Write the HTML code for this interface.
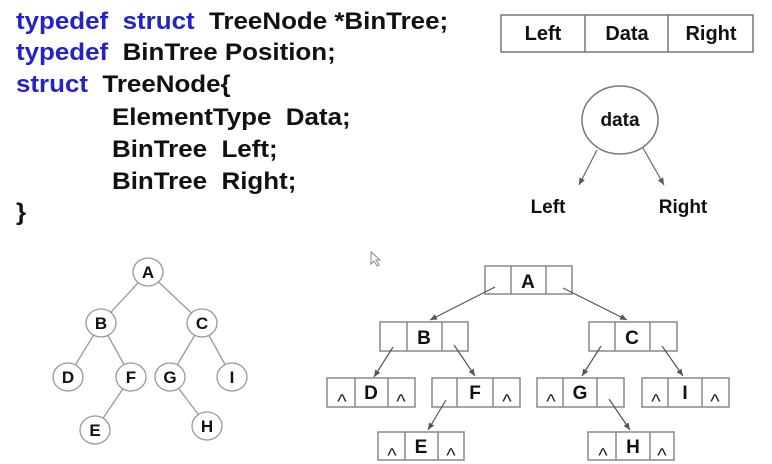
<!DOCTYPE html>
<html><head><meta charset="utf-8"><style>
body{margin:0;background:#fff;width:772px;height:464px;overflow:hidden}
.l{position:absolute;font:bold 24px/32px "Liberation Sans",sans-serif;color:#111;white-space:pre;transform:scaleX(1.08);transform-origin:left center}
.k{color:#2323c8}
</style></head><body>
<div class="l" style="left:16px;top:6px"><span class="k">typedef</span>  <span class="k">struct</span>  TreeNode *BinTree;</div>
<div class="l" style="left:16px;top:37px"><span class="k">typedef</span>  BinTree Position;</div>
<div class="l" style="left:16px;top:69px"><span class="k">struct</span>  TreeNode{</div>
<div class="l" style="left:112px;top:102px">ElementType  Data;</div>
<div class="l" style="left:112px;top:134px">BinTree  Left;</div>
<div class="l" style="left:112px;top:166px">BinTree  Right;</div>
<div class="l" style="left:16px;top:197px">}</div>
<svg width="772" height="464" style="position:absolute;left:0;top:0" font-family="Liberation Sans, sans-serif" font-weight="bold">
<defs><marker id="ar" markerWidth="8" markerHeight="8" refX="7" refY="4" orient="auto" markerUnits="userSpaceOnUse"><path d="M0,1 L7,4 L0,7 z" fill="#555"/></marker></defs>
<g fill="none" stroke="#777" stroke-width="1.5">
<rect x="501" y="15" width="252" height="37"/><line x1="585" y1="15" x2="585" y2="52"/><line x1="668" y1="15" x2="668" y2="52"/>
<ellipse cx="620" cy="120" rx="38" ry="34"/>
</g>
<g stroke="#666" stroke-width="1.2" marker-end="url(#ar)">
<line x1="597" y1="150" x2="579" y2="185"/><line x1="643" y1="148" x2="664" y2="185"/>
</g>
<g font-size="20" text-anchor="middle" fill="#111">
<text x="543" y="40">Left</text><text x="627" y="40">Data</text><text x="711" y="40">Right</text>
<text x="620" y="126" font-size="19">data</text>
<text x="548" y="213" font-size="19">Left</text><text x="683" y="213" font-size="19">Right</text>
</g>
<g stroke="#999" stroke-width="1.3">
<line x1="148" y1="272" x2="101" y2="323"/><line x1="148" y1="272" x2="202" y2="323"/>
<line x1="101" y1="323" x2="68" y2="377"/><line x1="101" y1="323" x2="131" y2="377"/>
<line x1="202" y1="323" x2="170" y2="377"/><line x1="202" y1="323" x2="232" y2="377"/>
<line x1="131" y1="377" x2="95" y2="430"/><line x1="170" y1="377" x2="207" y2="426"/>
</g>
<g fill="#fff" stroke="#999" stroke-width="1.3">
<ellipse cx="148" cy="272" rx="15" ry="14"/><ellipse cx="101" cy="323" rx="15" ry="14"/><ellipse cx="202" cy="323" rx="15" ry="14"/>
<ellipse cx="68" cy="377" rx="15" ry="14"/><ellipse cx="131" cy="377" rx="15" ry="14"/><ellipse cx="170" cy="377" rx="15" ry="14"/><ellipse cx="232" cy="377" rx="15" ry="14"/>
<ellipse cx="95" cy="430" rx="15" ry="14"/><ellipse cx="207" cy="426" rx="15" ry="14"/>
</g>
<g font-size="17" text-anchor="middle" fill="#111">
<text x="148" y="278">A</text><text x="101" y="329">B</text><text x="202" y="329">C</text>
<text x="68" y="383">D</text><text x="131" y="383">F</text><text x="170" y="383">G</text><text x="232" y="383">I</text>
<text x="95" y="436">E</text><text x="207" y="432">H</text>
</g>
<g fill="#fff" stroke="#888" stroke-width="1.5">
<rect x="485" y="266" width="87" height="28"/><line x1="511" y1="266" x2="511" y2="294"/><line x1="546" y1="266" x2="546" y2="294"/>
<rect x="380" y="322" width="88" height="29"/><line x1="407" y1="322" x2="407" y2="351"/><line x1="442" y1="322" x2="442" y2="351"/>
<rect x="589" y="322" width="88" height="29"/><line x1="615" y1="322" x2="615" y2="351"/><line x1="650" y1="322" x2="650" y2="351"/>
<rect x="327" y="378" width="88" height="29"/><line x1="355" y1="378" x2="355" y2="407"/><line x1="388" y1="378" x2="388" y2="407"/>
<rect x="432" y="378" width="88" height="29"/><line x1="457" y1="378" x2="457" y2="407"/><line x1="493" y1="378" x2="493" y2="407"/>
<rect x="537" y="378" width="87" height="29"/><line x1="563" y1="378" x2="563" y2="407"/><line x1="597" y1="378" x2="597" y2="407"/>
<rect x="642" y="378" width="87" height="29"/><line x1="668" y1="378" x2="668" y2="407"/><line x1="702" y1="378" x2="702" y2="407"/>
<rect x="378" y="432" width="86" height="28"/><line x1="405" y1="432" x2="405" y2="460"/><line x1="438" y1="432" x2="438" y2="460"/>
<rect x="588" y="432" width="86" height="28"/><line x1="616" y1="432" x2="616" y2="460"/><line x1="650" y1="432" x2="650" y2="460"/>
</g>
<g stroke="#555" stroke-width="1.2" marker-end="url(#ar)">
<line x1="495" y1="287" x2="430" y2="320"/><line x1="563" y1="288" x2="627" y2="320"/>
<line x1="393" y1="347" x2="374" y2="377"/><line x1="454" y1="345" x2="475" y2="376"/>
<line x1="601" y1="346" x2="582" y2="376"/><line x1="662" y1="346" x2="683" y2="376"/>
<line x1="446" y1="400" x2="428" y2="430"/><line x1="609" y1="399" x2="630" y2="430"/>
</g>
<g font-size="19" text-anchor="middle" fill="#111">
<text x="528" y="288">A</text><text x="424" y="344">B</text><text x="632" y="344">C</text>
<text x="371" y="399">D</text><text x="475" y="399">F</text><text x="580" y="399">G</text><text x="685" y="399">I</text>
<text x="421" y="453">E</text><text x="633" y="453">H</text>
</g>
<g font-size="20" font-weight="normal" text-anchor="middle" fill="#222">
<text x="342" y="408">^</text><text x="401" y="408">^</text><text x="507" y="408">^</text>
<text x="551" y="408">^</text><text x="656" y="408">^</text><text x="715" y="408">^</text>
<text x="392" y="462">^</text><text x="451" y="462">^</text><text x="603" y="462">^</text><text x="662" y="462">^</text>
</g>
<path d="M371,252 L371,264 L374,261 L377,266 L379,265 L376,260 L380,260 z" fill="#fff" stroke="#888" stroke-width="1"/>
</svg>
</body></html>
